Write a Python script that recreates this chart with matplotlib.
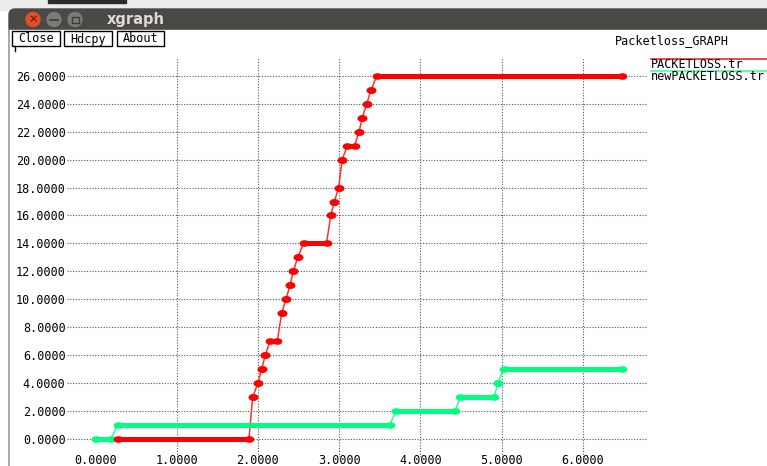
import matplotlib
matplotlib.use('Agg')
import matplotlib.pyplot as plt
from matplotlib.patches import Rectangle, Circle, FancyBboxPatch
import numpy as np

# PACKETLOSS.tr : flat runs / single points (x start, x end, value)
red_x_start = [0.275, 1.936, 2.001, 2.047, 2.091, 2.151, 2.293, 2.346, 2.395, 2.436, 2.490,
               2.562, 2.897, 2.941, 2.995, 3.036, 3.103, 3.245, 3.286, 3.340, 3.393, 3.464]
red_x_end = [1.890, 1.936, 2.001, 2.047, 2.091, 2.238, 2.293, 2.346, 2.395, 2.436, 2.490,
             2.845, 2.897, 2.941, 2.995, 3.036, 3.190, 3.245, 3.286, 3.340, 3.393, 6.478]
red_y = [0, 3, 4, 5, 6, 7, 9, 10, 11, 12, 13, 14, 16, 17, 18, 20, 21, 22, 23, 24, 25, 26]

# newPACKETLOSS.tr
green_x_start = [0.0, 0.275, 3.703, 4.491, 4.956, 5.025]
green_x_end = [0.188, 3.624, 4.433, 4.910, 4.956, 6.478]
green_y = [0, 1, 2, 3, 4, 5]

x_ticks = [0, 1, 2, 3, 4, 5, 6]
y_ticks = list(range(0, 27, 2))

W, H = 767, 466
fig = plt.figure(figsize=(W / 100, H / 100), dpi=100)
fig.patch.set_facecolor('white')
mono = 'DejaVu Sans Mono'

# window chrome, drawn in pixel coordinates
win = fig.add_axes([0, 0, 1, 1], zorder=0)
win.set_xlim(0, W)
win.set_ylim(H, 0)
win.axis('off')
win.add_patch(Rectangle((0, 0), W, 10, color='#ececec'))
win.add_patch(Rectangle((48, 0), 78, 3, color='#2b2b2b'))
win.add_patch(FancyBboxPatch((9, 9), W, 30, boxstyle='round,pad=0,rounding_size=6',
                             color='#4a4945', mutation_aspect=1))
win.add_patch(Rectangle((9, 30), W, H - 30, color='white'))
win.plot([9, 9], [30, H], color='#9a9a9a', lw=1.2)
win.add_patch(Circle((33, 19.5), 7, color='#e2502a'))
win.text(33, 19.5, '×', color='#6a1d0c', ha='center', va='center', fontsize=8, fontweight='bold')
win.add_patch(Circle((54, 19.5), 7, color='#7c7b77'))
win.plot([50, 58], [19.5, 19.5], color='#3c3b37', lw=1.2)
win.add_patch(Circle((75, 19.5), 7, color='#7c7b77'))
win.add_patch(Rectangle((71.5, 16.5), 7, 6, fill=False, ec='#3c3b37', lw=1))
win.text(107, 19.5, 'xgraph', color='#dfdbd2', ha='left', va='center',
         fontsize=10.5, fontweight='bold', family='DejaVu Sans')

for label, x0, x1 in [('Close', 12, 60), ('Hdcpy', 64, 112), ('About', 117, 164)]:
    win.add_patch(Rectangle((x0, 31), x1 - x0, 15, fill=False, ec='black', lw=1))
    win.text((x0 + x1) / 2, 39, label, ha='center', va='center', fontsize=8.5, family=mono)
win.plot([15, 15], [46, 51], color='black', lw=1)

win.text(615, 41, 'Packetloss_GRAPH', ha='left', va='center', fontsize=8.5, family=mono)
win.plot([651, W], [59, 59], color='#ff2020', lw=1.2)
win.text(651, 64, 'PACKETLOSS.tr', ha='left', va='center', fontsize=8.5, family=mono)
win.plot([651, W], [71, 71], color='#40ff9a', lw=1.2)
win.text(651, 76, 'newPACKETLOSS.tr', ha='left', va='center', fontsize=8.5, family=mono)

# plot area
ax = fig.add_axes([67 / W, 9 / H, 581 / W, 400 / H], zorder=1)
ax.patch.set_alpha(0)
ax.set_xlim(-0.351, 6.804)
ax.set_ylim(-1.31, 27.36)
for s in ax.spines.values():
    s.set_visible(False)

ax.set_xticks(x_ticks)
ax.set_xticklabels(['%.4f' % v for v in x_ticks], family=mono, fontsize=8.5)
ax.set_yticks(y_ticks)
ax.set_yticklabels(['%.4f' % v for v in y_ticks], family=mono, fontsize=8.5)
ax.tick_params(length=0, pad=1)
ax.tick_params(axis='x', pad=-2.5)
ax.grid(True, color='#555555', linestyle=(0, (1, 1.5)), linewidth=0.8)
ax.xaxis.get_gridlines()[0].set_visible(False)

ell = np.linspace(0, 2 * np.pi, 30)
blob = np.column_stack([0.8 * np.cos(ell), 0.5 * np.sin(ell)])


def draw_series(xs, xe, ys, color, thin):
    px, py = [], []
    for a, b, y in zip(xs, xe, ys):
        px += [a, b]
        py += [y, y]
    ax.plot(px, py, color=thin, lw=1.1, zorder=2)
    for a, b, y in zip(xs, xe, ys):
        if b > a:
            ax.plot([a, b], [y, y], color=color, lw=3.6, solid_capstyle='butt', zorder=3)
    ax.plot(px, py, linestyle='none', marker=blob, markersize=6, color=color, zorder=3)


draw_series(green_x_start, green_x_end, green_y, '#00ff7f', '#30ff95')
draw_series(red_x_start, red_x_end, red_y, '#ff0000', '#ff3030')

fig.savefig('out.png', dpi=100)
